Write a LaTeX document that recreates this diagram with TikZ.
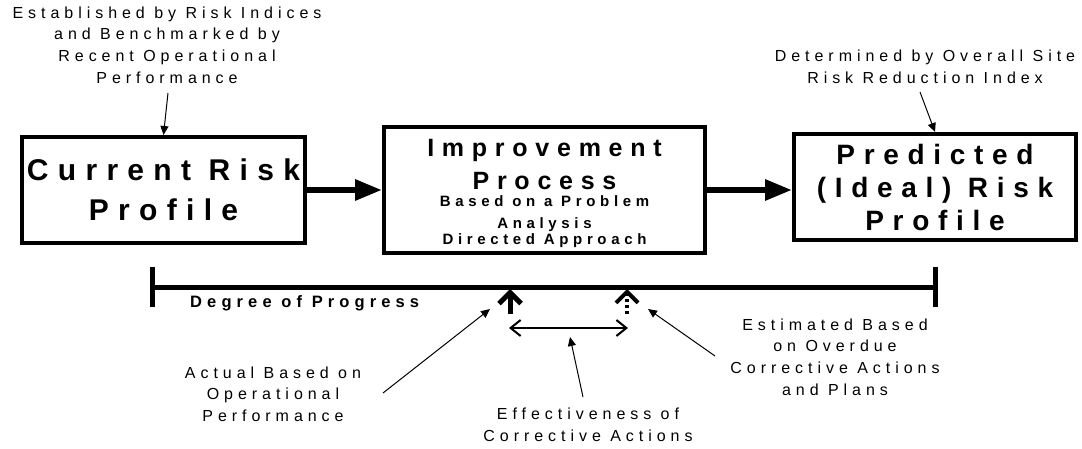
\documentclass[tikz,border=0pt]{standalone}
\usepackage{fontspec}
\setmainfont{Liberation Sans}[LetterSpace=31]
\usetikzlibrary{arrows.meta}

\tikzset{
  bigbox/.style={draw, line width=4pt, align=center, inner sep=0pt},
  flow/.style={line width=6pt, -{Triangle[length=27pt,width=20pt]}},
  note/.style={align=center, inner sep=0pt, font=\fontsize{16}{21.7}\selectfont},
  leader/.style={line width=1pt, -{Triangle[length=9pt,width=8pt]}},
  marker/.style={line width=5pt, -{Straight Barb[length=11pt,width=22pt]}},
}
\newcommand{\subline}{\fontsize{15}{16}\selectfont\bfseries}

\begin{document}
\begin{tikzpicture}[x=1pt,y=-1pt]
\useasboundingbox (0,0) rectangle (1082,449);
% Boxes
\node[bigbox, minimum width=283pt, minimum height=106pt,
  font=\fontsize{30}{40}\selectfont\bfseries] (cur) at (163.5,190) {Current Risk\\Profile};
\node[bigbox, minimum width=321pt, minimum height=126pt,
  font=\fontsize{25}{33}\selectfont\bfseries] (imp) at (544.5,190)
  {\rule{0pt}{24pt}Improvement\\Process\\[-16pt]
   {\subline Based on a Problem}\\[-11pt]
   {\subline Analysis}\\[-17pt]
   {\subline Directed Approach}};
\node[bigbox, minimum width=282pt, minimum height=106pt,
  font=\fontsize{28}{33}\selectfont\bfseries] (pred) at (935,187) {Predicted\\(Ideal) Risk\\Profile};
% Flow arrows
\draw[flow] (cur) -- (imp);
\draw[flow] (imp) -- (imp -| pred.west);
% Degree of progress bar
\coordinate (barL) at (150,287);
\coordinate (barR) at (938,287);
\draw[line width=5pt, {Bar[width=40pt]}-{Bar[width=40pt]}] (barL) -- (barR);
\node[anchor=west, inner sep=0pt, font=\fontsize{16.5}{18}\selectfont\bfseries] (deg) at (190,303) {Degree of Progress};
% Actual and estimated markers
\coordinate (actB) at (510,314);
\coordinate (actT) at (510,289);
\coordinate (estB) at (627,314);
\coordinate (estT) at (627,289);
\draw[marker] (actB) -- (actT);
\draw[marker, line width=4pt, dash pattern=on 3pt off 3pt] (estB) -- (estT);
\draw[line width=2pt, {Straight Barb[length=10pt,width=16pt]}-{Straight Barb[length=10pt,width=16pt]}] (509,328) coordinate (effL) -- (628,328) coordinate (effR);
% Notes
\node[note] (estab) at (167,45) {Established by Risk Indices\\and Benchmarked by\\Recent Operational\\Performance};
\node[note] (site) at (925,67) {Determined by Overall Site\\Risk Reduction Index};
\node[note] (actual) at (273,394) {Actual Based on\\Operational\\Performance};
\node[note] (effect) at (588,425) {Effectiveness of\\Corrective Actions};
\node[note] (estim) at (835,357) {Estimated Based\\on Overdue\\Corrective Actions\\and Plans};
% Leader lines
\coordinate (actP) at (490,309);
\coordinate (effP) at (570,337);
\coordinate (estP) at (648,309);
\draw[leader] (168,93) -- (cur.north);
\draw[leader] (920,92) -- (pred.north);
\draw[leader] (383,393) -- (actP);
\draw[leader] (583,397) -- (effP);
\draw[leader] (715,356) -- (estP);
\end{tikzpicture}
\end{document}
